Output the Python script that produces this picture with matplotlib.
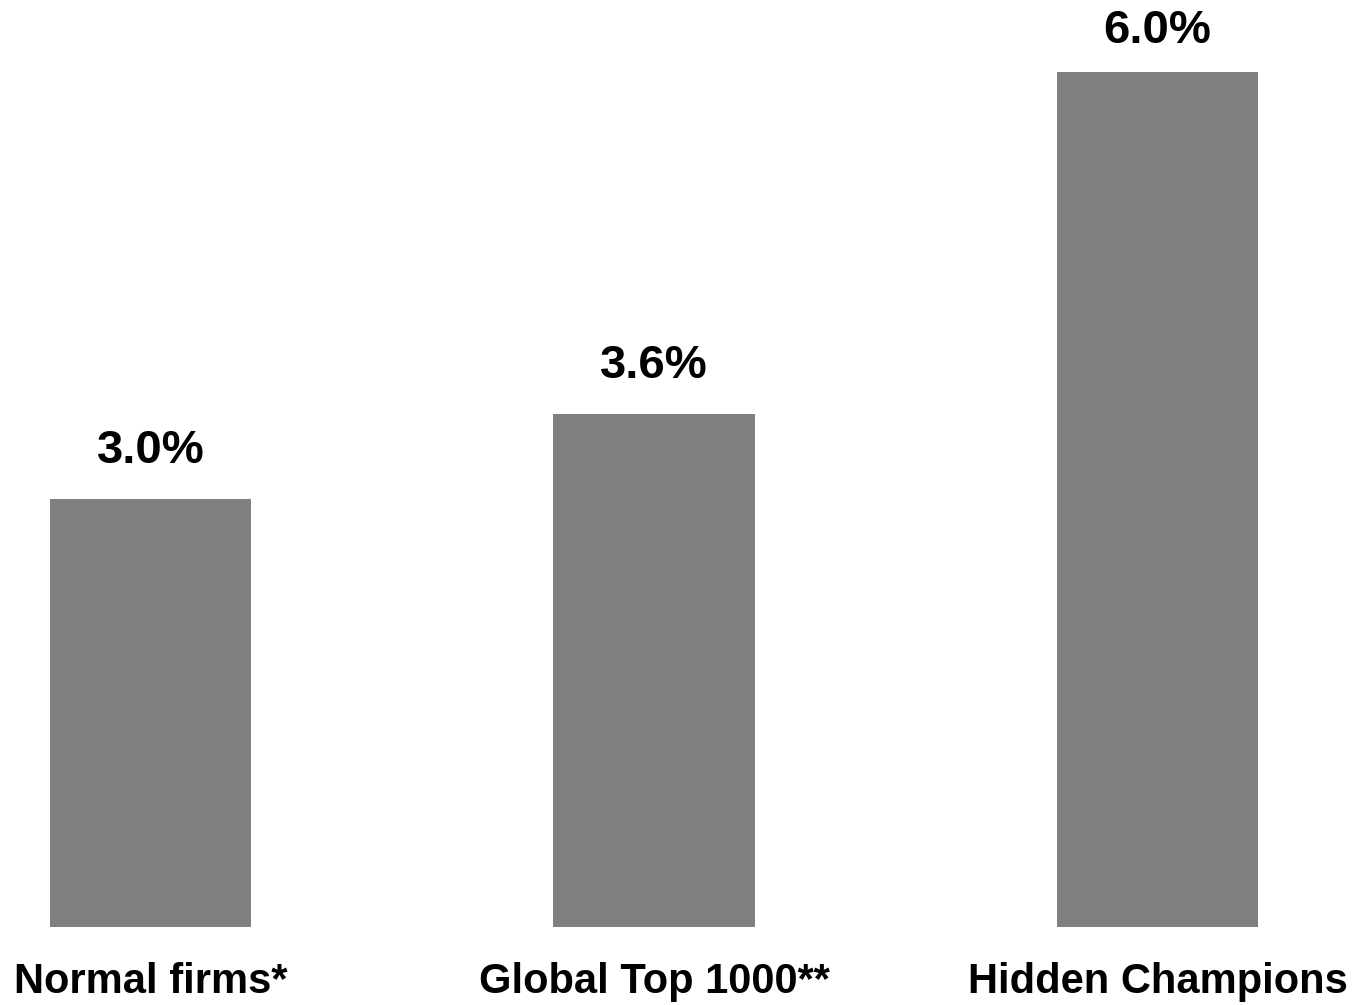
import matplotlib.pyplot as plt

plt.rcParams["font.family"] = ["Liberation Sans", "DejaVu Sans"]

categories = ["Normal firms*", "Global Top 1000**", "Hidden Champions"]
values = [3.0, 3.6, 6.0]
value_labels = ["3.0%", "3.6%", "6.0%"]

BAR_COLOR = "#808080"

fig = plt.figure(figsize=(13.59, 10.05), dpi=100)
ax = fig.add_axes([0, 78 / 1005, 1, 927 / 1005])

x = range(len(categories))
ax.bar(x, values, width=0.4, color=BAR_COLOR)

# the tallest bar's label sits a little closer so it stays inside the figure
for i, (v, lab) in enumerate(zip(values, value_labels)):
    pad = 13.5 if v == max(values) else 19
    ax.annotate(lab, (i, v), xytext=(0, pad), textcoords="offset points",
                ha="center", va="bottom", fontsize=34, fontweight="bold")

ax.set_xlim(-0.299, 2.400)
ax.set_ylim(0, 6.505)
ax.set_xticks(list(x))
ax.set_xticklabels(categories, fontsize=30, fontweight="bold")
ax.tick_params(axis="x", length=0, pad=25)
ax.set_yticks([])
for side in ax.spines.values():
    side.set_visible(False)

fig.savefig("out.png", dpi=100)
